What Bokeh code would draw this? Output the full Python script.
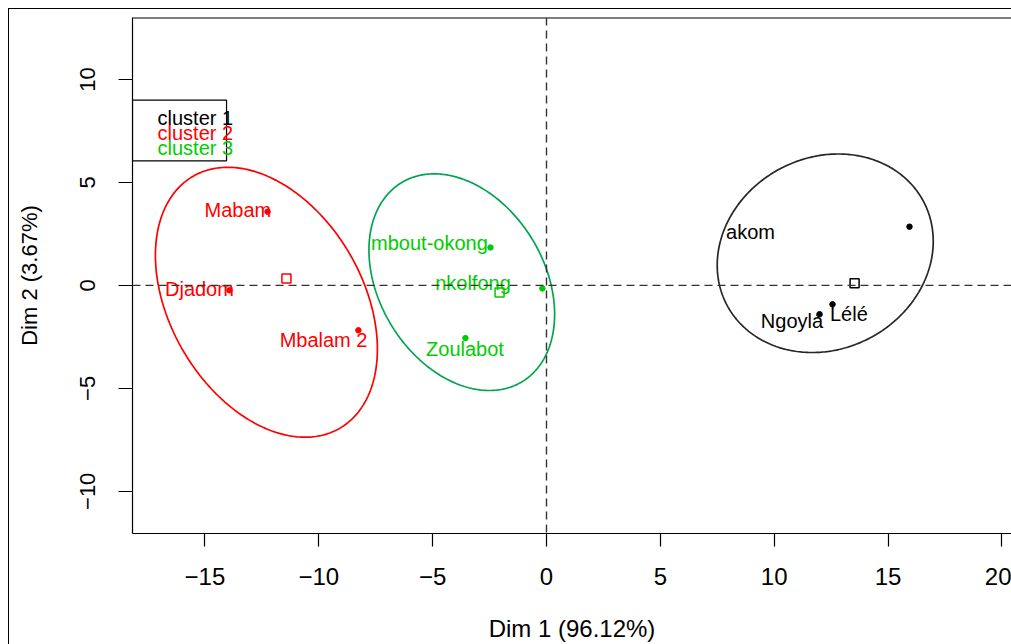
import numpy as np
from bokeh.plotting import figure
from bokeh.models import Range1d, FixedTicker, Span, ColumnDataSource
from bokeh.core.properties import value
from bokeh.embed import file_html
from bokeh.resources import INLINE

# ---------------- data ----------------
CLUSTER_NAMES = ["cluster 1", "cluster 2", "cluster 3"]
POINT_COLORS = ["#000000", "#FF0000", "#00CD00"]
ELLIPSE_COLORS = ["#262626", "#FF0000", "#00A550"]

# individuals (Dim 1, Dim 2)
c1_x = [15.94, 12.56, 11.99]
c1_y = [2.85, -0.92, -1.40]
c2_x = [-12.25, -13.92, -8.26]
c2_y = [3.58, -0.24, -2.18]
c3_x = [-2.46, -3.56, -0.18]
c3_y = [1.84, -2.56, -0.15]

# labels (as placed on the map)
c1_labels = ["akom", "Ngoylá", "Lélé"]
c1_lab_x = [8.96, 10.78, 13.28]
c1_lab_y = [2.61, -1.74, -1.40]
c2_labels = ["Mabam", "Djadom", "Mbalam 2"]
c2_lab_x = [-13.55, -15.24, -9.79]
c2_lab_y = [3.68, -0.19, -2.66]
c3_labels = ["mbout-okong", "nkolfong", "Zoulabot"]
c3_lab_x = [-5.14, -3.23, -3.58]
c3_lab_y = [2.08, 0.12, -3.10]

# cluster centres
centre_x = [13.53, -11.42, -2.06]
centre_y = [0.10, 0.34, -0.34]

# ellipses: centre and conjugate semi-axis vectors (data units)
ell_cx = [12.24, -12.30, -3.72]
ell_cy = [1.56, -0.82, 0.155]
ell_ux = [4.303, 3.21, 2.632]
ell_uy = [2.542, -6.125, -4.844]
ell_vx = [-1.995, 3.667, 3.113]
ell_vy = [4.096, 2.332, 2.052]

X_TICKS = [-15, -10, -5, 0, 5, 10, 15, 20]
Y_TICKS = [-10, -5, 0, 5, 10]
X_TITLE = "Dim 1 (96.12%)"
Y_TITLE = "Dim 2 (3.67%)"

X_RANGE = (-18.18, 20.42)
Y_RANGE = (-12.05, 13.01)

FONT = "Liberation Sans"

# ---------------- figure ----------------
p = figure(width=1011, height=644,
           x_range=Range1d(*X_RANGE), y_range=Range1d(*Y_RANGE),
           output_backend="svg", toolbar_location=None,
           min_border_left=132, min_border_right=0,
           min_border_top=17, min_border_bottom=109)
# outer picture frame (left and top edges, 8px in)
p.styles = {
    "background": ("linear-gradient(#000,#000) 8px 8px / 1px calc(100% - 8px) no-repeat, "
                   "linear-gradient(#000,#000) 8px 8px / calc(100% - 8px) 1px no-repeat, #fff")
}
p.grid.visible = False
p.outline_line_color = None
p.background_fill_color = "white"
p.border_fill_color = None

for ax in (p.xaxis[0], p.yaxis[0]):
    ax.axis_line_color = "#000000"
    ax.axis_line_width = 1.2
    ax.major_tick_line_color = "#000000"
    ax.major_tick_line_width = 1.2
    ax.minor_tick_line_color = None
    ax.major_tick_in = 0
    ax.major_label_text_color = "#000000"
    ax.major_label_text_font = FONT
    ax.axis_label_text_font = FONT
    ax.axis_label_text_font_style = "normal"
    ax.axis_label_text_color = "#000000"

p.xaxis.ticker = FixedTicker(ticks=X_TICKS)
p.yaxis.ticker = FixedTicker(ticks=Y_TICKS)
p.xaxis.axis_label = X_TITLE
p.yaxis.axis_label = Y_TITLE
p.xaxis.major_tick_out = 13
p.yaxis.major_tick_out = 14
p.xaxis.major_label_text_font_size = "24px"
p.yaxis.major_label_text_font_size = "22px"
p.xaxis.axis_label_text_font_size = "24px"
p.yaxis.axis_label_text_font_size = "22px"
p.xaxis.major_label_standoff = 21
p.yaxis.major_label_standoff = 23
p.yaxis.major_label_orientation = "vertical"
p.xaxis.axis_label_standoff = 27
p.yaxis.axis_label_standoff = 36

# top edge of the plot box (the right edge lies outside the picture)
p.add_layout(Span(location=Y_RANGE[1], dimension="width", line_color="#000000",
                  line_width=2.0))

# reference dashed axes through the origin
p.add_layout(Span(location=0, dimension="width", line_color="#333333",
                  line_width=1.4, line_dash="8 5"))
p.add_layout(Span(location=0, dimension="height", line_color="#333333",
                  line_width=1.4, line_dash="8 5"))

# ellipses
phi = np.linspace(0, 2 * np.pi, 361)
for i in range(3):
    ex = ell_cx[i] + ell_ux[i] * np.cos(phi) + ell_vx[i] * np.sin(phi)
    ey = ell_cy[i] + ell_uy[i] * np.cos(phi) + ell_vy[i] * np.sin(phi)
    p.line(ex, ey, line_color=ELLIPSE_COLORS[i], line_width=1.7)

groups = [
    (c1_x, c1_y, c1_labels, c1_lab_x, c1_lab_y),
    (c2_x, c2_y, c2_labels, c2_lab_x, c2_lab_y),
    (c3_x, c3_y, c3_labels, c3_lab_x, c3_lab_y),
]
for i, (xs, ys, labs, lx, ly) in enumerate(groups):
    col = POINT_COLORS[i]
    p.scatter(xs, ys, marker="circle", size=5.5, fill_color=col, line_color=col)
    src = ColumnDataSource(dict(x=lx, y=ly, t=labs))
    p.text("x", "y", text="t", source=src, text_color=col,
           text_font=value(FONT), text_font_size="20px",
           text_align="center", text_baseline="middle")
    p.scatter([centre_x[i]], [centre_y[i]], marker="square", size=9,
              fill_color=None, line_color=col, line_width=1.5)

# legend box (top-left, text only, as in the reference)
p.quad(left=[X_RANGE[0]], right=[-14.05], top=[9.0], bottom=[6.05],
       fill_color="white", line_color="#000000", line_width=1.2)
leg_y = [8.13, 7.40, 6.68]
p.text([-17.08] * 3, leg_y, text=CLUSTER_NAMES, text_color=POINT_COLORS,
       text_font=value(FONT), text_font_size="20px",
       text_align="left", text_baseline="middle")

open("out.html", "w").write(file_html(p, INLINE))
